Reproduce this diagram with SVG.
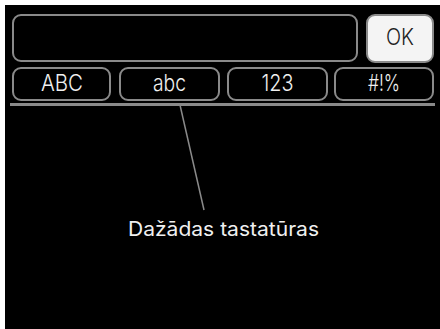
<svg xmlns="http://www.w3.org/2000/svg" width="440" height="329" viewBox="0 0 440 329">
<style>
.key{fill:#000;stroke:#8a8a8a;stroke-width:2}
.kt{fill:#f0f0f0;font-family:Inter,"Liberation Sans",Arial,sans-serif;font-weight:300;font-size:23px;text-anchor:middle}
.lbl{fill:#f0f0f0;font-family:Inter,"Noto Sans",sans-serif;font-size:20px}
</style>
<rect x="0" y="0" width="440" height="329" fill="#fff"/>
<rect x="5" y="5" width="435" height="324" fill="#000"/>
<g id="input"><rect class="key" x="13" y="15" width="344" height="46" rx="8"/></g>
<g id="ok"><rect x="367" y="15" width="66" height="47" rx="8" fill="#f4f4f4" stroke="#8a8a8a" stroke-width="2"/><text x="400" y="45" font-family="Inter,Liberation Sans,Arial,sans-serif" font-weight="300" font-size="23" text-anchor="middle" fill="#222" textLength="28" lengthAdjust="spacingAndGlyphs">OK</text></g>
<g id="tab-ABC"><rect class="key" x="13" y="68" width="97" height="32" rx="8"/><text class="kt" x="62" y="91" textLength="42" lengthAdjust="spacingAndGlyphs">ABC</text></g>
<g id="tab-abc"><rect class="key" x="120" y="68" width="99" height="32" rx="8"/><text class="kt" x="169.5" y="91" textLength="33" lengthAdjust="spacingAndGlyphs">abc</text></g>
<g id="tab-123"><rect class="key" x="228" y="68" width="99" height="32" rx="8"/><text class="kt" x="277.5" y="91" textLength="32" lengthAdjust="spacingAndGlyphs">123</text></g>
<g id="tab-sym"><rect class="key" x="335" y="68" width="98" height="32" rx="8"/><text class="kt" x="384" y="91" textLength="32" lengthAdjust="spacingAndGlyphs">#!%</text></g>
<g id="connectors">
<line x1="10" y1="104.5" x2="435" y2="104.5" stroke="#8a8a8a" stroke-width="3"/>
<line x1="180" y1="105" x2="204" y2="210" stroke="#8a8a8a" stroke-width="1.5"/>
</g>
<g id="label"><text class="lbl" x="128" y="236" textLength="191" lengthAdjust="spacingAndGlyphs">Dažādas tastatūras</text></g>
</svg>
